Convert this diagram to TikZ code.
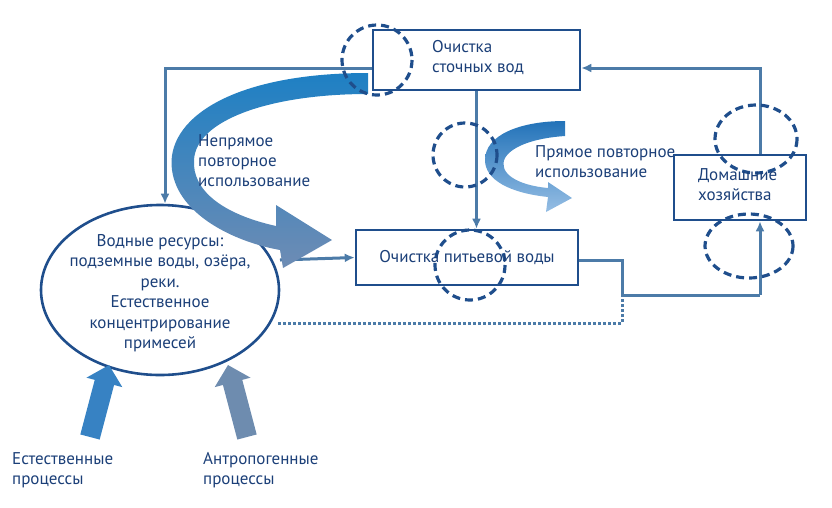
\documentclass[tikz,border=0pt]{standalone}
\usepackage{fontspec}
\setmainfont{PT Sans}
\usetikzlibrary{arrows.meta,shapes.geometric}
\definecolor{dk}{HTML}{1F4E8C}
\definecolor{ln}{HTML}{4C7BA8}
\definecolor{tx}{HTML}{1B3F78}
\definecolor{ba}{RGB}{30,128,196}
\definecolor{bb}{RGB}{110,140,180}
\definecolor{sa}{RGB}{35,115,185}
\definecolor{sb}{RGB}{150,190,228}
\definecolor{fa}{RGB}{55,130,195}
\definecolor{fb}{RGB}{110,140,175}
\begin{document}
\begin{tikzpicture}[x=1pt,y=-1pt,
  box/.style={draw=dk,line width=2.6pt,fill=white},
  con/.style={draw=ln,line width=3pt},
  arr/.style={con,-{Latex[length=10pt,width=9pt]}},
  dcirc/.style={draw=dk,line width=3.2pt,dash pattern=on 8pt off 5pt},
  lbl/.style={text=tx,font=\fontsize{17}{20}\selectfont,align=left,anchor=north west,inner sep=0pt},
  fat/.style={line width=20pt,-{Triangle[width=36pt,length=18pt]}}]
\useasboundingbox (0,0) rectangle (832,507);
\coordinate (c1) at (165,68);
\coordinate (c2) at (760,68);
\coordinate (c3) at (622,260);
\coordinate (c4) at (622,295);
\coordinate (c5) at (760,295);
\coordinate (d1) at (622,323);
\node[box,minimum width=207pt,minimum height=60pt] (st) at (476.5,60) {};
\node[box,minimum width=222pt,minimum height=55pt] (pw) at (467,257.5) {};
\node[box,minimum width=132pt,minimum height=65pt] (hh) at (740,187.5) {};
\node[draw=dk,line width=2.6pt,fill=white,ellipse,minimum width=238pt,minimum height=170pt,inner sep=0pt] (wr) at (160,290) {};
\draw[arr] (st.west|-c1) -- (c1) -- (c1|-wr.north);
\draw[arr] (hh.north-|c2) -- (c2) -- (st.east|-c2);
\draw[arr] (st.south) -- (pw.north-|st.south);
\draw[arr] (280,260) -- (pw.west);
\draw[con] (pw.east|-c3) -- (c3) -- (c4) -- (c5);
\draw[arr] (c5) -- (c5|-hh.south);
\draw[draw=ln,line width=3pt,dotted] (278,323) -- (d1) -- (c4);
\shade[top color=ba,bottom color=bb]
 (368,73) .. controls (230,73) and (165,120) .. (172,170) .. controls (178,215) and (235,242) .. (280,250)
 -- (283,268) -- (332,240) -- (276,205) -- (276,226)
 .. controls (222,214) and (192,190) .. (194,160) .. controls (196,120) and (270,94) .. (368,94) -- cycle;
\shade[top color=sa,bottom color=sb]
 (565,121) .. controls (520,121) and (485,135) .. (485,160) .. controls (485,180) and (510,193) .. (548,197)
 -- (546,212) -- (572,198) -- (548,182) -- (548,188)
 .. controls (515,185) and (498,172) .. (505,158) .. controls (512,146) and (535,138) .. (565,136) -- cycle;
\draw[dcirc] (377,60) circle (35);
\draw[dcirc] (465,155) circle (32);
\draw[dcirc] (470,265) circle (35);
\draw[dcirc] (756,139) ellipse (41 and 34);
\draw[dcirc] (749,246) ellipse (44 and 32);
\draw[fat,draw=fa] (90,437) -- (109,365);
\draw[fat,draw=fb] (247,437) -- (228,365);
\node[lbl] (t1) at (432,40) {Очистка\\сточных вод};
\node[text=tx,font=\fontsize{17}{20}\selectfont,inner sep=0pt] (t2) at (pw.center) {Очистка питьевой воды};
\node[lbl] (t3) at (698,168) {Домашние\\хозяйства};
\node[lbl] (t4) at (198,134) {Непрямое\\повторное\\использование};
\node[lbl] (t5) at (535,145) {Прямое повторное\\использование};
\node[text=tx,font=\fontsize{17}{20.5}\selectfont,align=center,inner sep=0pt] (t6) at (160,293) {Водные ресурсы:\\подземные воды, озёра,\\реки.\\Естественное\\концентрирование\\примесей};
\node[lbl] (t7) at (12,452) {Естественные\\процессы};
\node[lbl] (t8) at (203,452) {Антропогенные\\процессы};
\end{tikzpicture}
\end{document}
